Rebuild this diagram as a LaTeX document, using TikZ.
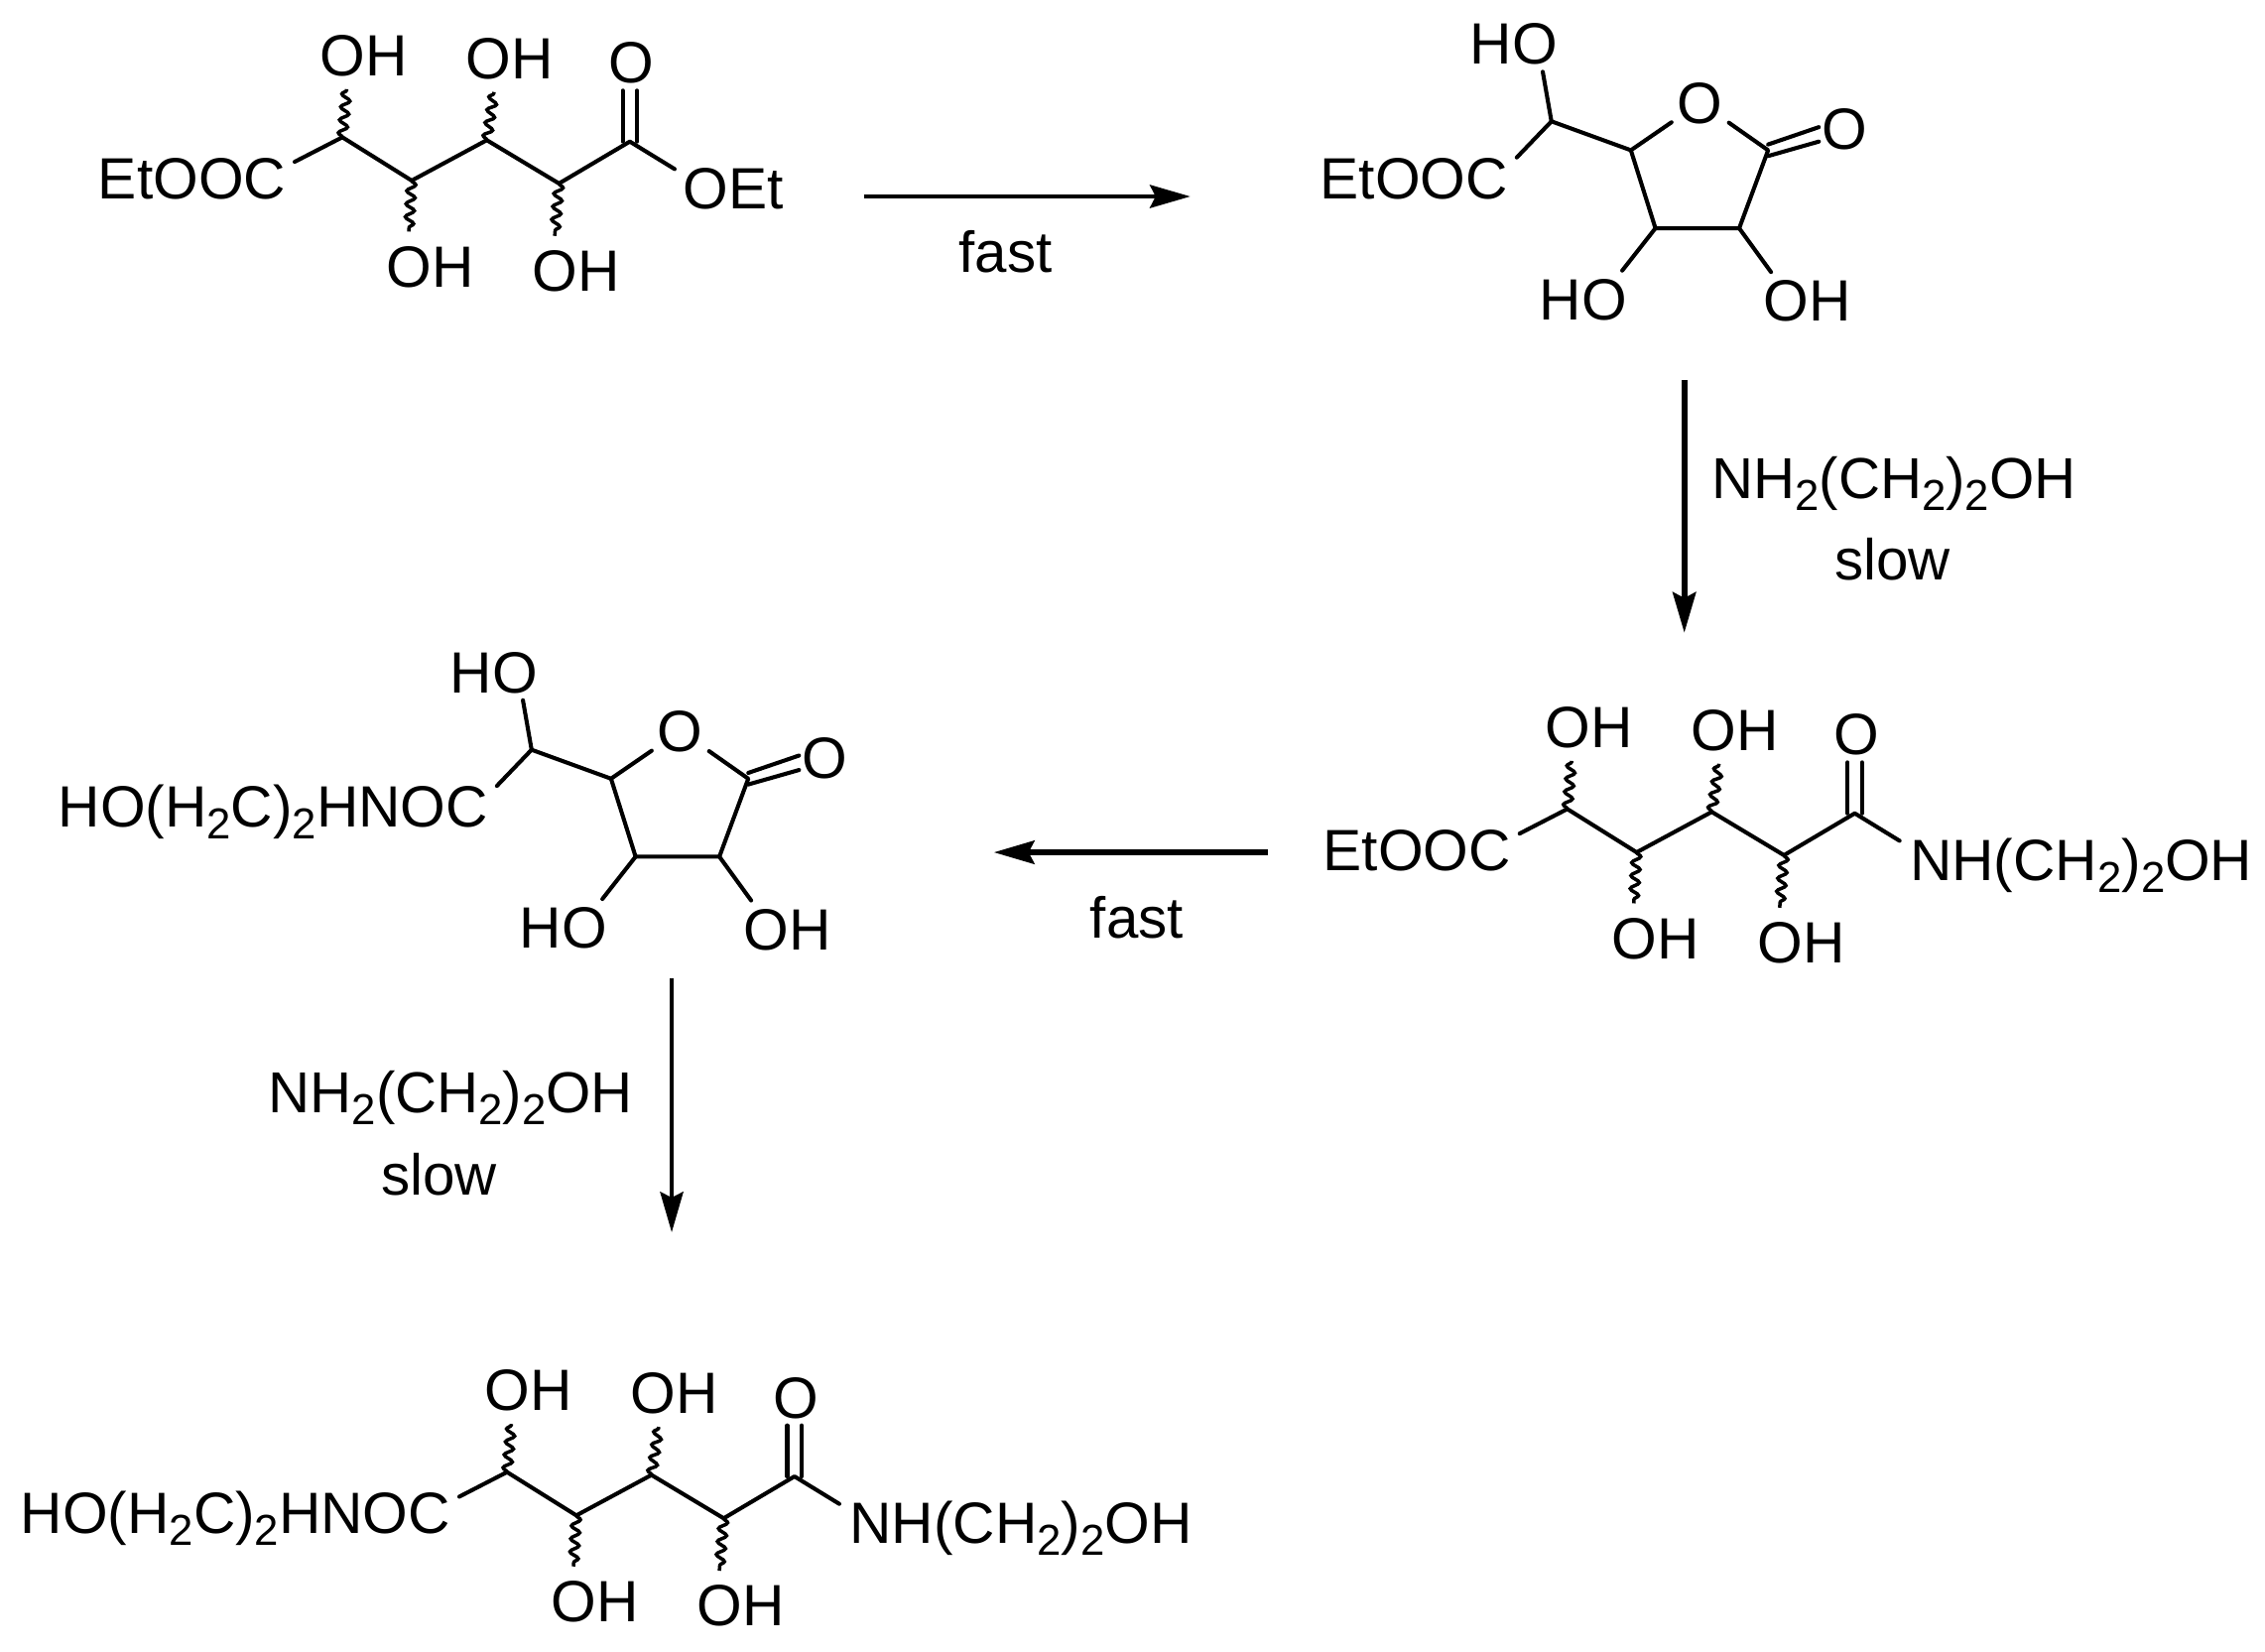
\documentclass[tikz,border=0pt]{standalone}
\usepackage{fontspec}
\setmainfont{Liberation Sans}
\usetikzlibrary{arrows.meta, decorations.pathmorphing}
\newcommand{\sub}[1]{\raisebox{-.2em}{\fontsize{30}{30}\selectfont #1}}
\tikzset{
  atoms/.style={% Style for atom labels
      inner xsep=6pt, inner ysep=9pt,
      text height=29pt, text depth=0pt,
      font=\fontsize{40.3}{44}\selectfont,
  },
  ringatoms/.style={atoms, inner ysep=5pt},% Labels closer to their bonds
  words/.style={% Style for texts at the arrows
      inner sep=0pt,
      font=\fontsize{40}{44}\selectfont,
  },
  bond/.style={line width=2.8pt, line cap=round, line join=round},
  wavy/.style={line width=2.4pt, decorate,
      decoration={snake, segment length=9pt, amplitude=3pt, post length=0pt, pre length=0pt}},
  thinarrow/.style={line width=2.6pt, -{Stealth[length=28pt,width=16pt,inset=4pt]}},
  thickarrow/.style={line width=4pt, -{Stealth[length=28pt,width=16pt,inset=4pt]}},
}
\def\openchain(#1)#2[#3]#4{%
  \begin{scope}[shift={(#1)}]
      \coordinate (c1#2) at (237,95);
      \coordinate (c2#2) at (285,125);
      \coordinate (c3#2) at (337,97);
      \coordinate (c4#2) at (387,127);
      \coordinate (c5#2) at (436,98);
      \node[atoms, anchor=east] (left#2) at (204,123) {#3};
      \node[atoms, anchor=west] (right#2) at (467,130) {#4};
      \node[atoms] (oa#2) at (252,38) {OH};
      \node[atoms] (ob#2) at (353,40) {OH};
      \node[atoms] (oc#2) at (298,184) {OH};
      \node[atoms] (od#2) at (399,187) {OH};
      \node[ringatoms] (oe#2) at (437,43) {O};
      \draw[bond] ([yshift=11pt]left#2.east) -- (c1#2) -- (c2#2) -- (c3#2) -- (c4#2) -- (c5#2)
        -- ([yshift=13pt]right#2.west);
      \draw[wavy] (c1#2) -- ([xshift=-12pt]oa#2.south);
      \draw[wavy] (c3#2) -- ([xshift=-11pt]ob#2.south);
      \draw[wavy] (c2#2) -- ([xshift=-15pt]oc#2.north);
      \draw[wavy] (c4#2) -- ([xshift=-15pt]od#2.north);
      \draw[bond] ([xshift=-5pt]c5#2) -- ([xshift=-6pt]oe#2.south);
      \draw[bond] ([xshift=5pt]c5#2) -- ([xshift=4pt]oe#2.south);
  \end{scope}
}
\def\lactone(#1)#2[#3]{%
  \begin{scope}[shift={(#1)}]
      \coordinate (ca#2) at (1074,84);
      \coordinate (cb#2) at (1129,104);
      \coordinate (cc#2) at (1146,158);
      \coordinate (cd#2) at (1204,158);
      \coordinate (ce#2) at (1224,104);
      \node[atoms, anchor=east] (left#2) at (1050,123) {#3};
      \node[ringatoms] (oa#2) at (1048,30) {HO};
      \node[atoms, inner sep=4pt] (ring#2) at (1177,71) {O};
      \node[atoms, inner sep=2pt] (oe#2) at (1277,89) {O};
      \node[ringatoms] (ob#2) at (1096,207) {HO};
      \node[ringatoms] (oc#2) at (1251,208) {OH};
      \draw[bond] ([yshift=14pt]left#2.east) -- (ca#2) -- ([xshift=20pt]oa#2.south);
      \draw[bond] (ca#2) -- (cb#2) -- (ring#2);
      \draw[bond] (ring#2) -- (ce#2) -- (cd#2) -- (cc#2) -- (cb#2);
      \draw[bond] (cc#2) -- ([xshift=27pt]ob#2.north);
      \draw[bond] (cd#2) -- ([xshift=-25pt]oc#2.north);
      \draw[bond] ([yshift=4pt]ce#2) -- ([yshift=1pt]oe#2.west);
      \draw[bond] ([yshift=-4pt]ce#2) -- ([yshift=-9pt]oe#2.west);
  \end{scope}
}
\begin{document}
\begin{tikzpicture}[x=1pt, y=-1pt]
    \useasboundingbox (0,0) rectangle (1568,1143.5);
    \openchain(0,0){1}[EtOOC]{OEt}
    \lactone(0,0){2}[EtOOC]
    \openchain(848,465){3}[EtOOC]{\kern1pt NH(CH\sub{2})\sub{2}OH}
    \lactone(-706,435){4}[HO(H\sub{2}C)\sub{2}HNOC]
    \openchain(114,924){5}[HO(H\sub{2}C)\sub{2}HNOC]{\kern1pt NH(CH\sub{2})\sub{2}OH}
    % reaction arrows with their free ends
    \coordinate (af) at (598,136);
    \coordinate (at) at (824,136);
    \coordinate (bf) at (1166,263);
    \coordinate (bt) at (1166,438);
    \coordinate (cf) at (878,590);
    \coordinate (ct) at (688,590);
    \coordinate (df) at (465,677);
    \coordinate (dt) at (465,853);
    \draw[thinarrow] (af) -- (at);
    \draw[thickarrow] (bf) -- (bt);
    \draw[thickarrow] (cf) -- (ct);
    \draw[thinarrow] (df) -- (dt);
    \node[words] (fasta) at (696,174) {fast};
    \node[words] (fastb) at (787,635) {fast};
    \node[words] (amina) at (1311,335) {NH\sub{2}(CH\sub{2})\sub{2}OH};
    \node[words] (slowa) at (1310,387) {slow};
    \node[words] (aminb) at (312,760) {NH\sub{2}(CH\sub{2})\sub{2}OH};
    \node[words] (slowb) at (304,813) {slow};
\end{tikzpicture}
\end{document}
